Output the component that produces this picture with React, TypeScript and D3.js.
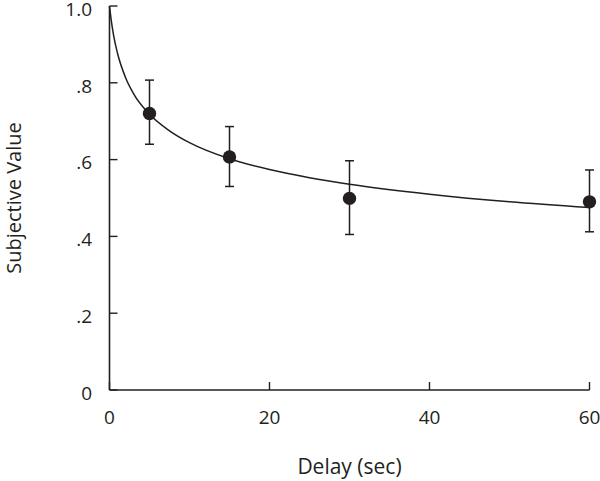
import React from "react";
import * as d3 from "d3";

// Observed data (mean subjective value with error bars)
const delays = [5, 15, 30, 60];
const means = [0.72, 0.607, 0.499, 0.49];
const errUpper = [0.807, 0.686, 0.597, 0.573];
const errLower = [0.64, 0.53, 0.405, 0.412];

// Fitted discounting curve
const curveDelays = [0, 0.1, 0.25, 0.5, 1, 2, 3, 5, 7.5, 10, 15, 20, 25, 30, 40, 50, 60];
const curveValues = [1.0, 0.982, 0.958, 0.925, 0.877, 0.814, 0.772, 0.718, 0.675, 0.644, 0.602, 0.574, 0.553, 0.536, 0.51, 0.49, 0.475];

const xTicks = [0, 20, 40, 60];
const xTickLabels = ["0", "20", "40", "60"];
const yTicks = [0, 0.2, 0.4, 0.6, 0.8, 1.0];
const yTickLabels = ["0", ".2", ".4", ".6", ".8", "1.0"];

const W = 600;
const H = 481;
const INK = "#231f20";
const FONT = "'Open Sans', 'DejaVu Sans', sans-serif";

export default function App() {
  const x = d3.scaleLinear().domain([0, 60]).range([109.5, 589.5]);
  const y = d3.scaleLinear().domain([0, 1]).range([390, 6]);

  const line = d3
    .line<number>()
    .x((_, i) => x(curveDelays[i]))
    .y((d) => y(d))
    .curve(d3.curveMonotoneX);

  const x0 = x(0);
  const y0 = y(0);
  const tickLen = 8;
  const cap = 4.5;

  return (
    <svg
      width={W}
      height={H}
      style={{ position: "absolute", left: 0, top: 0, background: "#fff" }}
      fontFamily={FONT}
    >
      {/* axes */}
      <line x1={x0} y1={y(1)} x2={x0} y2={y0} stroke={INK} strokeWidth={1.6} />
      <line x1={x0} y1={y0} x2={x(60)} y2={y0} stroke={INK} strokeWidth={1.6} />

      {yTicks.map((t, i) => (
        <g key={"y" + i}>
          <line x1={x0} x2={x0 + tickLen} y1={y(t)} y2={y(t)} stroke={INK} strokeWidth={1.4} />
          <text
            x={92}
            y={y(t)}
            dy="0.52em"
            textAnchor="end"
            fontSize={19}
            fill={INK}
          >
            {yTickLabels[i]}
          </text>
        </g>
      ))}

      {xTicks.map((t, i) => (
        <g key={"x" + i}>
          <line x1={x(t)} x2={x(t)} y1={y0} y2={y0 - tickLen} stroke={INK} strokeWidth={1.4} />
          <text x={x(t)} y={424} textAnchor="middle" fontSize={19} fill={INK}>
            {xTickLabels[i]}
          </text>
        </g>
      ))}

      {/* axis titles */}
      <text x={349.5} y={474} textAnchor="middle" fontSize={21} fill={INK}>
        Delay (sec)
      </text>
      <text
        transform={`translate(21, 198) rotate(-90)`}
        textAnchor="middle"
        fontSize={20}
        fill={INK}
      >
        Subjective Value
      </text>

      {/* fitted curve */}
      <path d={line(curveValues) || ""} fill="none" stroke={INK} strokeWidth={1.5} />

      {/* error bars */}
      {delays.map((d, i) => (
        <g key={"e" + i} stroke={INK} strokeWidth={1.5}>
          <line x1={x(d)} x2={x(d)} y1={y(errUpper[i])} y2={y(errLower[i])} />
          <line x1={x(d) - cap} x2={x(d) + cap} y1={y(errUpper[i])} y2={y(errUpper[i])} />
          <line x1={x(d) - cap} x2={x(d) + cap} y1={y(errLower[i])} y2={y(errLower[i])} />
        </g>
      ))}

      {/* points */}
      {delays.map((d, i) => (
        <circle key={"p" + i} cx={x(d)} cy={y(means[i])} r={6.7} fill={INK} />
      ))}
    </svg>
  );
}
